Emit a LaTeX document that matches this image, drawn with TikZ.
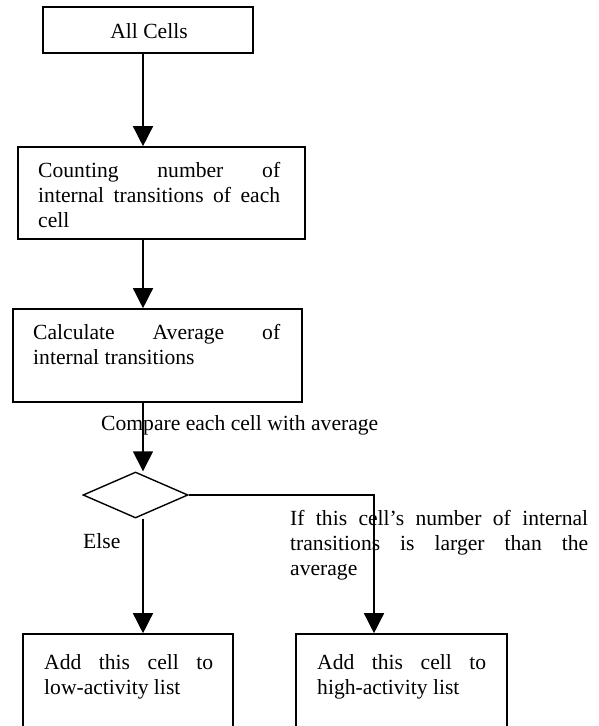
\documentclass[tikz,border=0pt]{standalone}
\usepackage{fontspec}
\setmainfont{Liberation Serif}
\usetikzlibrary{arrows.meta,shapes.geometric}
\begin{document}
\begin{tikzpicture}[x=1pt,y=-1pt,
  box/.style={draw,line width=1.6pt,inner sep=0pt,rectangle},
  arr/.style={line width=1.4pt,-{Triangle[width=20pt,length=20pt]}},
  txt/.style={anchor=base west,inner sep=0pt,font=\fontsize{21.6}{25}\selectfont},
]
\clip (0,0) rectangle (599,726);
\fill[white] (0,0) rectangle (599,726);
\coordinate (cx) at (143,0);
\coordinate (hx) at (374,0);
% boxes
\node[box,minimum width=210pt,minimum height=46pt] (b1) at (148,30) {};
\node[box,minimum width=287pt,minimum height=92pt] (b2) at (161.5,193) {};
\node[box,minimum width=289pt,minimum height=93pt] (b3) at (157.5,355.5) {};
\node[draw,diamond,line width=1.4pt,minimum width=105pt,minimum height=46pt,inner sep=0pt] (d) at (135.5,495) {};
\node[box,minimum width=210pt,minimum height=146pt] (b4) at (128,707) {};
\node[box,minimum width=211pt,minimum height=146pt] (b5) at (401.5,707) {};
% texts
\node[txt,anchor=base] (t1) at (149,38) {All Cells};
\node[txt] (t2) at (38,177) {\parbox[t]{242pt}{\makebox[242pt][s]{Counting number of}\\\makebox[242pt][s]{internal transitions of each}\\cell}};
\node[txt] (t3) at (33,339) {\parbox[t]{247pt}{\makebox[247pt][s]{Calculate Average of}\\internal transitions}};
\node[txt] (tc) at (101,430) {Compare each cell with average};
\node[txt] (te) at (83,548) {Else};
\node[txt] (tr) at (290,525) {\parbox[t]{298pt}{\makebox[298pt][s]{If this cell’s number of internal}\\\makebox[298pt][s]{transitions is larger than the}\\average}};
\node[txt] (t4) at (44,669) {\parbox[t]{169pt}{\makebox[169pt][s]{Add this cell to}\\low-activity list}};
\node[txt] (t5) at (317,669) {\parbox[t]{169pt}{\makebox[169pt][s]{Add this cell to}\\high-activity list}};
% connectors
\draw[arr] (b1.south -| cx) -- (b2.north -| cx);
\draw[arr] (b2.south -| cx) -- (b3.north -| cx);
\draw[arr] (b3.south -| cx) -- (d.north -| cx);
\draw[arr] (d.south -| cx) -- (b4.north -| cx);
\draw[arr] (d.east) -| (b5.north -| hx);
\end{tikzpicture}
\end{document}
